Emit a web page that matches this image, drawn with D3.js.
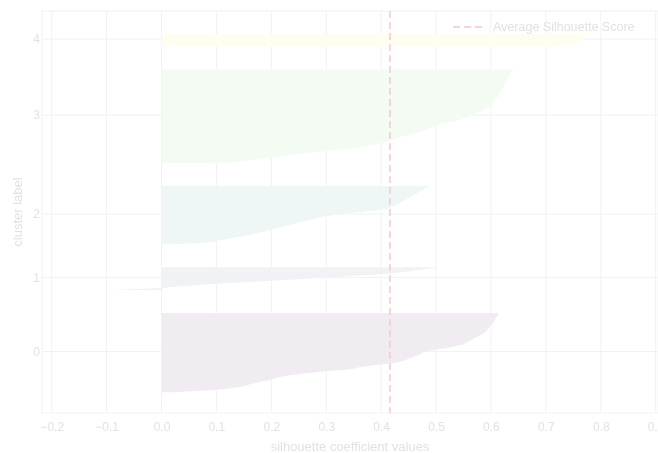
<!DOCTYPE html>
<html>
<head>
<meta charset="utf-8">
<script src="https://cdn.jsdelivr.net/npm/d3@7"></script>
<style>
body { margin: 0; background: #fff; }
text { font-family: "Liberation Sans", Arial, sans-serif; fill: #e2e2e2; }
</style>
</head>
<body>
<script>
// ----------------------------------------------- Data ------------------------------------------------ //
var cluster_labels = ["0", "1", "2", "3", "4"];

// sorted silhouette values, one array per cluster
var sil_c0 = [0.02, 0.10, 0.13, 0.15, 0.165, 0.18, 0.20, 0.21, 0.23, 0.26, 0.30, 0.345, 0.36,
              0.39, 0.425, 0.44, 0.45, 0.46, 0.47, 0.475, 0.49, 0.515, 0.535, 0.55, 0.556, 0.565,
              0.57, 0.578, 0.585, 0.59, 0.593, 0.596, 0.60, 0.603, 0.606, 0.608, 0.61, 0.612, 0.615];
var sil_c1 = [-0.09, 0.0, 0.04, 0.10, 0.17, 0.235, 0.30, 0.36, 0.415, 0.45, 0.48, 0.505];
var sil_c2 = [0.03, 0.09, 0.11, 0.13, 0.15, 0.17, 0.185, 0.20, 0.215, 0.23, 0.245, 0.26, 0.275,
              0.29, 0.315, 0.345, 0.38, 0.41, 0.42, 0.428, 0.435, 0.442, 0.448, 0.455, 0.462,
              0.468, 0.475, 0.482, 0.49];
var sil_c3 = [0.12, 0.15, 0.18, 0.21, 0.24, 0.27, 0.31, 0.35, 0.37, 0.39, 0.405, 0.42, 0.43,
              0.44, 0.455, 0.47, 0.48, 0.49, 0.50, 0.51, 0.53, 0.545, 0.555, 0.565, 0.575, 0.585,
              0.59, 0.595, 0.60, 0.603, 0.606, 0.609, 0.612, 0.615, 0.617, 0.619, 0.621, 0.623,
              0.625, 0.627, 0.629, 0.631, 0.633, 0.636, 0.638, 0.642];
var sil_c4 = [0.73, 0.745, 0.755, 0.765, 0.77, 0.775, 0.78];

var avg_score = 0.416;
var x_ticks = [-0.2, -0.1, 0.0, 0.1, 0.2, 0.3, 0.4, 0.5, 0.6, 0.7, 0.8, 0.9];
var legend_label = "Average Silhouette Score";
var x_title = "silhouette coefficient values";
var y_title = "cluster label";

// --------------------------------------------- Init SVG ---------------------------------------------- //
var margin = {left: 42, right: 0, top: 11, bottom: 40},
    width = 658 - margin.left - margin.right,
    height = 453 - margin.top - margin.bottom;

var svg = d3.select("body")
    .append("svg")
    .attr("width", width + margin.left + margin.right)
    .attr("height", height + margin.top + margin.bottom);

// the reference is soft, a slight blur brings it closer
svg.append("defs").append("filter")
    .attr("id", "soft")
    .append("feGaussianBlur")
    .attr("stdDeviation", 0.6);

var g = svg.append("g")
    .attr("filter", "url(#soft)")
    .attr("transform", "translate(" + margin.left + "," + margin.top + ")");

// ----------------------------------------- Define Parameters ----------------------------------------- //
var clusters = [sil_c0, sil_c1, sil_c2, sil_c3, sil_c4];
var gap = 10;
var n_total = d3.sum(clusters, c => c.length);

var x = d3.scaleLinear()
    .domain([-0.2177, 0.9043])
    .range([0, width]);

var y = d3.scaleLinear()
    .domain([0, n_total + (clusters.length + 1) * gap])
    .range([height, 0]);

var grid_col = "#f2f2f2",
    line_col = "#f5c9cf";

function faded(i) {
    return d3.interpolateRgb("#ffffff", d3.interpolateViridis(i / (clusters.length - 1)))(0.075);
}

// cluster bands with y offsets like the usual silhouette plot
var bands = [];
var y_lower = gap;
clusters.forEach((vals, i) => {
    bands.push({
        label: cluster_labels[i],
        mid: y_lower + 0.5 * vals.length,
        pts: vals.map((v, j) => ({y: y_lower + j, v: v})),
        color: faded(i)
    });
    y_lower += vals.length + gap;
});

// ------------------------------------------ Draw Functions ------------------------------------------- //
function draw() {
    draw_grid();
    draw_bands();
    draw_avg_line();
    draw_axes();
    draw_legend();
}

function draw_grid() {
    var grid = g.append("g").attr("class", "grid");
    grid.selectAll("line.v")
        .data(x_ticks)
        .enter().append("line")
            .attr("class", "v")
            .attr("x1", d => x(d)).attr("x2", d => x(d))
            .attr("y1", 0).attr("y2", height)
            .attr("stroke", grid_col);
    grid.selectAll("line.h")
        .data(bands)
        .enter().append("line")
            .attr("class", "h")
            .attr("x1", 0).attr("x2", width)
            .attr("y1", d => y(d.mid)).attr("y2", d => y(d.mid))
            .attr("stroke", grid_col);
    grid.append("rect")
        .attr("width", width)
        .attr("height", height)
        .attr("fill", "none")
        .attr("stroke", grid_col);
}

function draw_bands() {
    var area = d3.area()
        .y(d => y(d.y))
        .x0(x(0))
        .x1(d => x(d.v));
    g.append("g").attr("class", "bands")
        .selectAll("path")
        .data(bands)
        .enter().append("path")
            .attr("d", d => area(d.pts))
            .attr("fill", d => d.color);
}

function draw_avg_line() {
    g.append("line")
        .attr("x1", x(avg_score)).attr("x2", x(avg_score))
        .attr("y1", 0).attr("y2", height)
        .attr("stroke", line_col)
        .attr("stroke-width", 1.5)
        .attr("stroke-dasharray", "7,4");
}

function draw_axes() {
    var xa = g.append("g")
        .attr("transform", "translate(0," + height + ")")
        .call(d3.axisBottom(x).tickValues(x_ticks).tickSize(0).tickPadding(9)
            .tickFormat(d3.format(".1f")));
    xa.select(".domain").remove();
    xa.selectAll("text").attr("font-size", "12px").attr("fill", "#e2e2e2");

    var ya = g.append("g")
        .call(d3.axisLeft(y).tickValues(bands.map(b => b.mid)).tickSize(0).tickPadding(2)
            .tickFormat((d, i) => bands[i].label));
    ya.select(".domain").remove();
    ya.selectAll("text").attr("font-size", "12px").attr("fill", "#e2e2e2");

    g.append("text")
        .attr("x", width / 2)
        .attr("y", height + 38)
        .attr("text-anchor", "middle")
        .attr("font-size", "13px")
        .text(x_title);

    g.append("text")
        .attr("transform", "translate(" + (-20) + "," + (height / 2) + ") rotate(-90)")
        .attr("text-anchor", "middle")
        .attr("font-size", "13px")
        .text(y_title);
}

function draw_legend() {
    var legend = g.append("g").attr("class", "legend")
        .attr("transform", "translate(" + (width - 205) + ",16)");
    legend.append("line")
        .attr("x1", 0).attr("x2", 29)
        .attr("stroke", line_col)
        .attr("stroke-width", 1.5)
        .attr("stroke-dasharray", "7,4");
    legend.append("text")
        .attr("x", 40)
        .attr("dy", "0.35em")
        .attr("font-size", "12.5px")
        .text(legend_label);
}

// ----------------------------------------------- Main ------------------------------------------------ //
draw();
</script>
</body>
</html>
